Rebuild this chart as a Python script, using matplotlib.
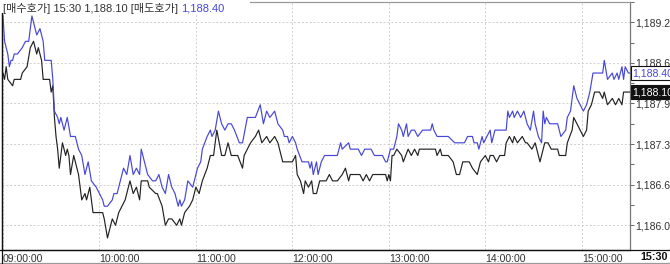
import numpy as np
import matplotlib
matplotlib.use("Agg")
import matplotlib.pyplot as plt
from matplotlib.lines import Line2D
from matplotlib.patches import Rectangle

plt.rcParams["font.family"] = ["Liberation Sans", "Noto Sans CJK KR", "DejaVu Sans"]

# minutes after 09:00 and quoted prices
ASK_MIN = [0, 1, 2, 3, 4, 5, 6, 7, 9, 12, 14, 16, 18, 19, 21, 23, 25, 26, 27, 30,
           31, 32, 34, 35, 36, 38, 40, 42, 45, 47, 49, 51, 53, 55, 58, 60, 62, 63, 65, 68,
           69, 71, 73, 75, 77, 79, 81, 83, 85, 86, 88, 90, 93, 95, 97, 99, 101, 103, 105, 107,
           109, 110, 111, 113, 115, 118, 119, 121, 123, 124, 127, 129, 130, 132, 134, 136, 138, 140, 142, 144,
           147, 149, 152, 154, 157, 160, 162, 164, 166, 169, 171, 174, 175, 177, 178, 180, 182, 183, 186, 190,
           191, 192, 193, 195, 196, 198, 200, 208, 210, 211, 215, 216, 221, 223, 225, 229, 231, 236, 238, 239,
           241, 243, 245, 246, 248, 249, 251, 252, 254, 256, 258, 261, 266, 267, 268, 270, 277, 281, 287, 289,
           292, 293, 295, 296, 298, 299, 301, 303, 304, 306, 313, 314, 315, 317, 318, 320, 322, 324, 326, 328,
           330, 331, 333, 335, 336, 337, 338, 340, 345, 347, 350, 351, 353, 355, 357, 359, 361, 363, 365, 367,
           369, 371, 373, 374, 376, 379, 380, 382, 383, 385, 386, 387, 389, 390]
ASK_PRICE = [1189.3, 1188.9, 1188.8, 1188.7, 1188.5, 1188.6, 1188.6, 1188.7, 1188.7, 1188.8,
             1188.9, 1188.9, 1189.3, 1189.2, 1189.0, 1189.1, 1188.9, 1188.6, 1188.6, 1188.6,
             1188.3, 1187.8, 1187.7, 1187.6, 1187.7, 1187.5, 1187.7, 1187.4, 1187.4, 1187.2,
             1187.1, 1186.8, 1187.0, 1186.7, 1186.6, 1186.5, 1186.4, 1186.3, 1186.3, 1186.4,
             1186.5, 1186.5, 1186.7, 1186.9, 1186.8, 1187.1, 1186.8, 1186.9, 1186.8, 1187.2,
             1187.0, 1186.8, 1186.7, 1186.7, 1186.8, 1186.6, 1186.5, 1186.8, 1186.6, 1186.5,
             1186.3, 1186.4, 1186.3, 1186.4, 1186.7, 1186.6, 1186.7, 1186.9, 1187.0, 1187.2,
             1187.4, 1187.5, 1187.4, 1187.5, 1187.8, 1187.6, 1187.5, 1187.6, 1187.6, 1187.5,
             1187.3, 1187.3, 1187.7, 1187.7, 1187.7, 1187.9, 1187.6, 1187.8, 1187.7, 1187.8,
             1187.6, 1187.5, 1187.4, 1187.4, 1187.3, 1187.4, 1187.3, 1187.2, 1187.0, 1187.0,
             1186.9, 1187.0, 1186.8, 1187.0, 1186.8, 1187.0, 1187.1, 1187.1, 1187.3, 1187.2,
             1187.3, 1187.2, 1187.2, 1187.1, 1187.2, 1187.2, 1187.1, 1187.1, 1187.0, 1187.0,
             1187.2, 1187.2, 1187.4, 1187.6, 1187.5, 1187.4, 1187.6, 1187.4, 1187.5, 1187.5,
             1187.4, 1187.5, 1187.5, 1187.6, 1187.5, 1187.4, 1187.4, 1187.3, 1187.3, 1187.4,
             1187.4, 1187.3, 1187.3, 1187.2, 1187.4, 1187.3, 1187.4, 1187.5, 1187.3, 1187.5,
             1187.5, 1187.8, 1187.7, 1187.8, 1187.7, 1187.8, 1187.7, 1187.8, 1187.6, 1187.5,
             1187.8, 1187.6, 1187.4, 1187.3, 1187.8, 1187.6, 1187.7, 1187.6, 1187.6, 1187.4,
             1187.5, 1187.7, 1187.8, 1188.2, 1188.0, 1187.9, 1187.8, 1187.9, 1188.1, 1188.4,
             1188.4, 1188.4, 1188.4, 1188.6, 1188.3, 1188.4, 1188.3, 1188.4, 1188.3, 1188.5,
             1188.3, 1188.5, 1188.4, 1188.4]

BID_MIN = [0, 1, 2, 3, 6, 7, 11, 12, 15, 17, 19, 21, 22, 24, 25, 27, 29, 30, 31, 32,
           33, 34, 35, 37, 39, 40, 41, 42, 44, 45, 47, 49, 51, 52, 54, 56, 59, 62, 63, 65,
           68, 70, 72, 74, 76, 79, 81, 83, 85, 86, 90, 91, 95, 96, 99, 101, 103, 105, 108, 110,
           111, 113, 116, 118, 120, 122, 124, 127, 129, 131, 133, 136, 138, 140, 142, 146, 149, 150, 154, 157,
           159, 161, 164, 166, 169, 171, 174, 180, 182, 183, 185, 187, 188, 190, 192, 193, 195, 197, 201, 203,
           205, 208, 211, 213, 215, 216, 222, 224, 226, 228, 230, 238, 239, 240, 241, 242, 243, 245, 248, 249,
           252, 254, 256, 258, 259, 269, 270, 272, 273, 277, 280, 282, 284, 286, 290, 292, 295, 297, 300, 302,
           303, 305, 307, 309, 312, 313, 315, 317, 318, 320, 323, 325, 326, 329, 331, 332, 334, 335, 337, 339,
           341, 345, 346, 350, 351, 354, 355, 357, 359, 361, 363, 364, 366, 368, 369, 371, 373, 374, 376, 379,
           381, 383, 385, 386, 388, 390]
BID_PRICE = [1188.4, 1188.3, 1188.5, 1188.3, 1188.2, 1188.3, 1188.3, 1188.4, 1188.5, 1188.8,
             1188.9, 1188.7, 1188.8, 1188.6, 1188.3, 1188.3, 1188.3, 1188.1, 1188.2, 1187.7,
             1187.4, 1187.2, 1186.9, 1187.3, 1187.1, 1187.2, 1187.1, 1186.8, 1187.1, 1187.0,
             1186.8, 1186.4, 1186.5, 1186.4, 1186.6, 1186.2, 1186.2, 1186.2, 1186.1, 1185.8,
             1186.1, 1186.0, 1186.2, 1186.3, 1186.4, 1186.7, 1186.5, 1186.6, 1186.4, 1186.7,
             1186.7, 1186.6, 1186.5, 1186.5, 1186.3, 1186.0, 1186.1, 1186.1, 1186.0, 1186.1,
             1186.0, 1186.2, 1186.3, 1186.4, 1186.6, 1186.5, 1186.7, 1186.9, 1187.1, 1187.1,
             1187.5, 1187.1, 1187.1, 1187.3, 1187.1, 1187.1, 1186.9, 1187.1, 1187.3, 1187.4,
             1187.5, 1187.3, 1187.4, 1187.3, 1187.4, 1187.3, 1187.0, 1187.0, 1187.1, 1186.8,
             1186.7, 1186.5, 1186.7, 1186.6, 1186.7, 1186.5, 1186.5, 1186.7, 1186.7, 1186.8,
             1186.7, 1186.7, 1186.8, 1186.9, 1186.7, 1186.8, 1186.8, 1186.7, 1186.8, 1186.7,
             1186.8, 1186.8, 1186.7, 1186.8, 1186.7, 1187.1, 1187.1, 1187.2, 1187.1, 1187.0,
             1187.2, 1187.1, 1187.2, 1187.1, 1187.2, 1187.2, 1187.1, 1187.2, 1187.1, 1187.1,
             1187.0, 1186.8, 1186.8, 1187.0, 1187.0, 1186.9, 1186.8, 1187.0, 1187.1, 1187.0,
             1187.1, 1187.1, 1187.0, 1187.1, 1187.1, 1187.3, 1187.4, 1187.3, 1187.4, 1187.3,
             1187.4, 1187.3, 1187.3, 1187.2, 1187.3, 1187.2, 1187.0, 1187.1, 1187.3, 1187.3,
             1187.2, 1187.2, 1187.1, 1187.1, 1187.3, 1187.5, 1187.7, 1187.6, 1187.5, 1187.4,
             1187.5, 1187.8, 1187.9, 1188.1, 1188.1, 1188.1, 1188.0, 1188.1, 1187.9, 1188.0,
             1187.9, 1188.0, 1187.9, 1188.1, 1188.1, 1188.1]

Y_TICKS = [1186.0, 1186.64, 1187.28, 1187.92, 1188.56, 1189.2]
HOUR_MIN = [0, 60, 120, 180, 240, 300, 360]
HOUR_LABELS = ["09:00:00", "10:00:00", "11:00:00", "12:00:00", "13:00:00", "14:00:00", "15:00:00"]
LAST_TIME = "15:30"

BLUE = "#4646d8"
DARK = "#222222"
W, H = 670, 264

fig = plt.figure(figsize=(W / 100, H / 100), dpi=100)
ax = fig.add_axes([2 / W, 14 / H, 628 / W, 248 / H])

ax.plot(BID_MIN, BID_PRICE, color=DARK, lw=0.85, zorder=3)
ax.plot(ASK_MIN, ASK_PRICE, color=BLUE, lw=0.85, zorder=4)

ax.set_xlim(-0.6, 390)
ax.set_ylim(1185.61, 1189.48)

# grid
ax.set_xticks(HOUR_MIN)
ax.set_xticklabels(HOUR_LABELS, ha="left")
ax.set_yticks(Y_TICKS)
ax.set_yticklabels([f"{v:,.1f}" for v in Y_TICKS])
minors = [(a + b) / 2 for a, b in zip(Y_TICKS[:-1], Y_TICKS[1:])]
minors += [Y_TICKS[-1] + 0.32]
ax.set_yticks(minors, minor=True)
ax.grid(True, which="major", color="#cfcfcf", lw=0.7, ls=(0, (2, 2)))
ax.yaxis.tick_right()
ax.tick_params(axis="y", which="both", direction="out", length=3, width=0.7,
               color="#666666", labelsize=7.6, labelcolor="#333333", pad=1)
ax.tick_params(axis="x", length=0, labelsize=7.6, labelcolor="#333333", pad=3)

for side, col in [("left", "#111111"), ("bottom", "#111111"), ("right", "#777777"), ("top", "#999999")]:
    ax.spines[side].set_color(col)
    ax.spines[side].set_linewidth(0.9)

# last-value tags on the right scale
last_bid = BID_PRICE[-1]
last_ask = ASK_PRICE[-1]
ax.annotate(f"{last_ask:,.2f}", xy=(1.0, last_ask), xycoords=("axes fraction", "data"),
            xytext=(1.5, 0), textcoords="offset points", ha="left", va="center",
            fontsize=7.6, color=BLUE, annotation_clip=False, zorder=10,
            bbox=dict(boxstyle="square,pad=0.15", fc="white", ec="#111111", lw=0.8))
ax.annotate(f"{last_bid:,.2f}", xy=(1.0, last_bid), xycoords=("axes fraction", "data"),
            xytext=(1.5, 0), textcoords="offset points", ha="left", va="center",
            fontsize=7.6, color="white", annotation_clip=False, zorder=10,
            bbox=dict(boxstyle="square,pad=0.15", fc="#111111", ec="#111111", lw=0.8))

# header
fig.patches.append(Rectangle((0, 1 - 13 / H), 250 / W, 13 / H, transform=fig.transFigure,
                             fc="white", ec="none", zorder=5))
head = fig.text(3 / W, 1 - 8.5 / H, f"[매수호가] {LAST_TIME} {last_bid:,.2f} [매도호가]",
                fontsize=8.0, color="#333333", va="center", ha="left", zorder=6)
fig.add_artist(plt.Annotation(f"{last_ask:,.2f}", xy=(1.0, 0.5), xycoords=head,
                              xytext=(2.5, 0), textcoords="offset points",
                              fontsize=8.0, color=BLUE, va="center", ha="left", zorder=6))

# outer frame lines and final time label
fig.add_artist(Line2D([0, 1], [14 / H, 14 / H], transform=fig.transFigure, color="#111111", lw=0.9))
fig.add_artist(Line2D([0, 1], [0.6 / H, 0.6 / H], transform=fig.transFigure, color="#999999", lw=0.9))
fig.add_artist(Line2D([1.5 / W, 1.5 / W], [0, 1], transform=fig.transFigure, color="#111111", lw=0.9))
fig.text(640 / W, 7 / H, LAST_TIME, fontsize=7.8, fontweight="bold", color="#111111",
         va="center", ha="left")

fig.savefig("out.png", dpi=100)
